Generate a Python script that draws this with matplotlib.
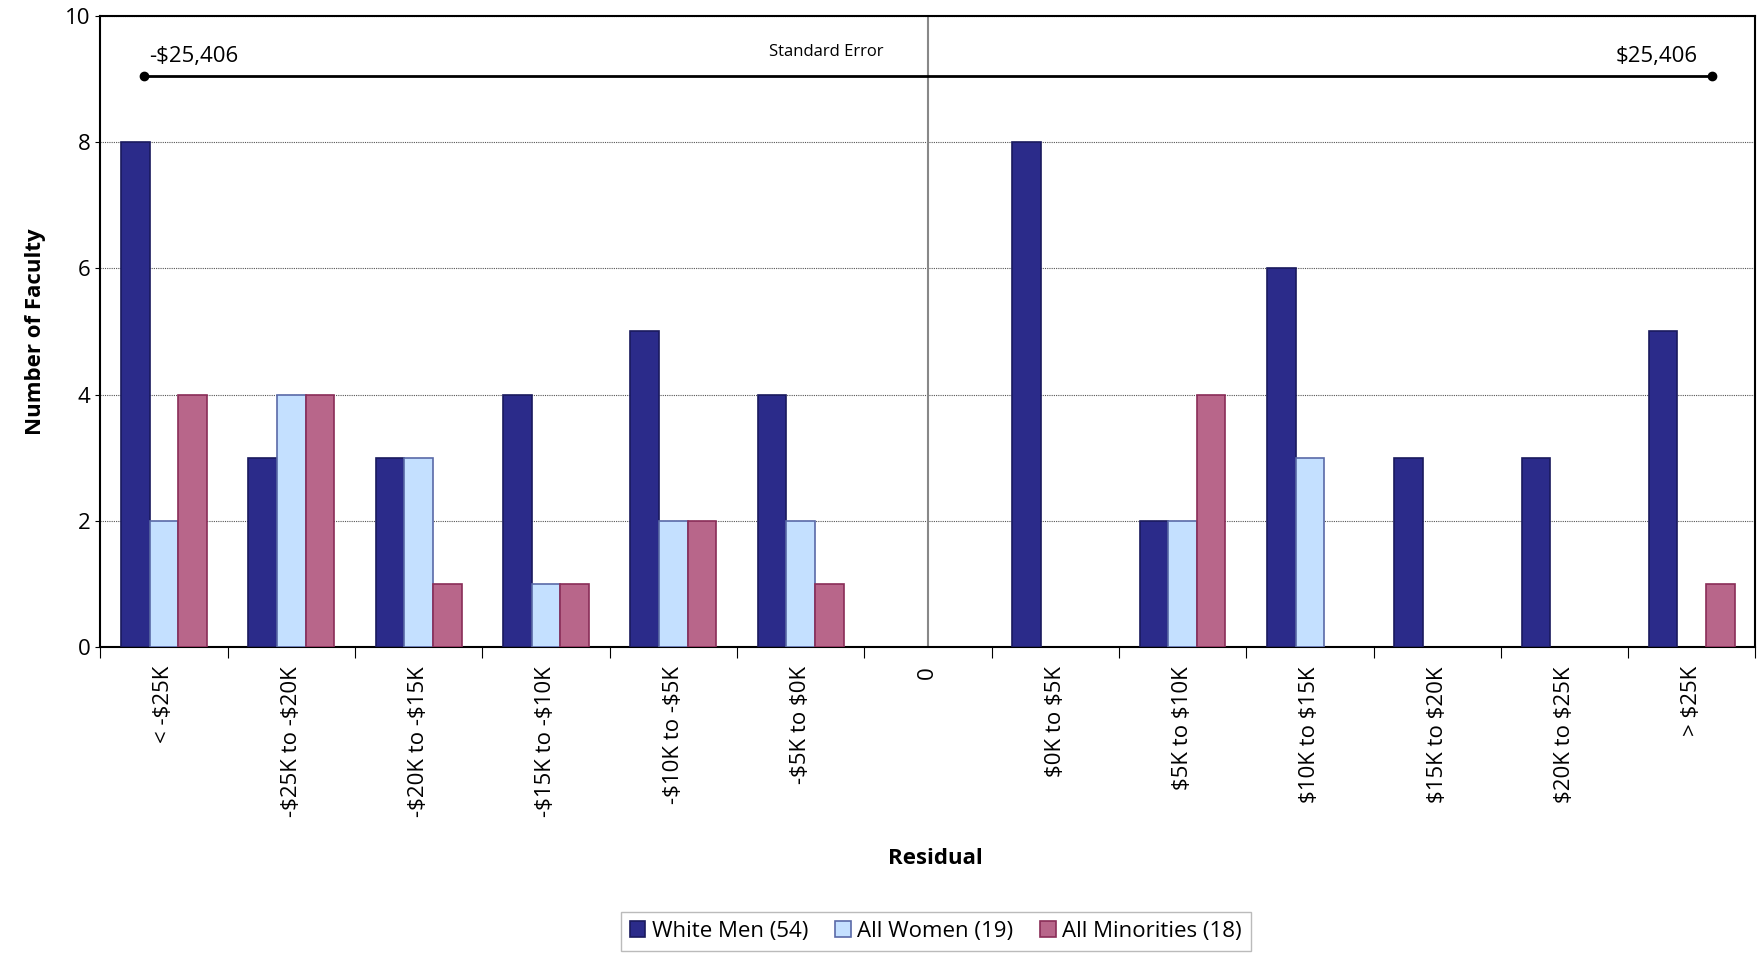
import numpy as np
import matplotlib.pyplot as plt

plt.rcParams['text.parse_math'] = False
plt.rcParams['font.family'] = ['Open Sans', 'DejaVu Sans']

categories = ["< -$25K", "-$25K to -$20K", "-$20K to -$15K", "-$15K to -$10K", "-$10K to -$5K",
              "-$5K to $0K", "0", "$0K to $5K", "$5K to $10K", "$10K to $15K", "$15K to $20K",
              "$20K to $25K", "> $25K"]
white_men = [8, 3, 3, 4, 5, 4, 0, 8, 2, 6, 3, 3, 5]
all_women = [2, 4, 3, 1, 2, 2, 0, 0, 2, 3, 0, 0, 0]
all_minorities = [4, 4, 1, 1, 2, 1, 0, 0, 4, 0, 0, 0, 1]
series = [("White Men (54)", white_men, "#2b2b8a", "#1a1a5e"),
          ("All Women (19)", all_women, "#c4e0ff", "#5a6aa8"),
          ("All Minorities (18)", all_minorities, "#b8668a", "#8a2d58")]
std_err = 25406

fig = plt.figure(figsize=(17.59, 9.58), dpi=100)
ax = fig.add_axes([0.057, 0.325, 0.941, 0.658])
x = np.arange(len(categories))
w = 0.225
for i, (name, vals, fc, ec) in enumerate(series):
    vals = np.array(vals, dtype=float)
    heights = np.where(vals > 0, vals, np.nan)
    ax.bar(x + (i - 1) * w, heights, w, color=fc, edgecolor=ec, linewidth=1.2, label=name, zorder=3)

ax.set_xlim(-0.5, len(categories) - 0.5)
ax.set_ylim(0, 10)
ax.set_yticks([0, 2, 4, 6, 8, 10])
ax.yaxis.grid(True, color="#555555", linestyle=(0, (1, 1)), linewidth=0.8, zorder=0)
ax.set_xticks(np.arange(len(categories) + 1) - 0.5, minor=False)
ax.set_xticklabels([])
ax.set_xticks(x, minor=True)
ax.set_xticklabels(categories, minor=True, rotation=90, fontsize=16)
ax.tick_params(axis="x", which="minor", length=0, pad=14)
ax.tick_params(axis="x", which="major", length=8)
ax.tick_params(axis="y", labelsize=16)
for s in ax.spines.values():
    s.set_linewidth(1.5)

ax.axvline(6, color="#888888", linewidth=1.5, zorder=2)
ax.plot([-0.16, 12.16], [9.05, 9.05], color="black", linewidth=2, marker="o", markersize=6, zorder=4)
ax.text(-0.12, 9.2, "-${:,}".format(std_err), fontsize=16, ha="left", va="bottom")
ax.text(12.05, 9.2, "${:,}".format(std_err), fontsize=16, ha="right", va="bottom")
ax.text(5.2, 9.3, "Standard Error", fontsize=12, ha="center", va="bottom")

ax.set_ylabel("Number of Faculty", fontsize=16, fontweight="bold", labelpad=14)
fig.text(0.532, 0.104, "Residual", fontsize=16, fontweight="bold", ha="center", va="center")

fig.legend(*ax.get_legend_handles_labels(), loc="center", bbox_to_anchor=(0.532, 0.028), ncol=3, fontsize=16,
           frameon=True, fancybox=False, edgecolor="#aaaaaa", handlelength=0.7,
           handletextpad=0.3, columnspacing=1.2)

fig.savefig("out.png", dpi=100)
